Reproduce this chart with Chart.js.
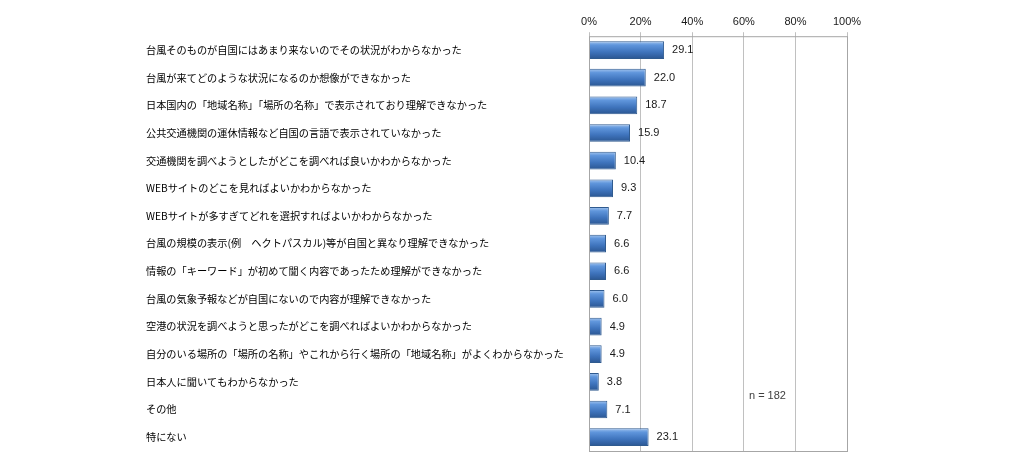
<!DOCTYPE html>
<html>
<head>
<meta charset="utf-8">
<script src="https://cdn.jsdelivr.net/npm/chart.js@4"></script>
<style>
    body { margin: 0; background: #fff; }
    #wrap { width: 1024px; height: 469px; }
</style>
</head>
<body>
<div id="wrap"><canvas id="myChart" width="1024" height="469"></canvas></div>
<script>
const kategori = [
    '台風そのものが自国にはあまり来ないのでその状況がわからなかった',
    '台風が来てどのような状況になるのか想像ができなかった',
    '日本国内の「地域名称」「場所の名称」で表示されており理解できなかった',
    '公共交通機関の運休情報など自国の言語で表示されていなかった',
    '交通機関を調べようとしたがどこを調べれば良いかわからなかった',
    'WEBサイトのどこを見ればよいかわからなかった',
    'WEBサイトが多すぎてどれを選択すればよいかわからなかった',
    '台風の規模の表示(例　ヘクトパスカル)等が自国と異なり理解できなかった',
    '情報の「キーワード」が初めて聞く内容であったため理解ができなかった',
    '台風の気象予報などが自国にないので内容が理解できなかった',
    '空港の状況を調べようと思ったがどこを調べればよいかわからなかった',
    '自分のいる場所の「場所の名称」やこれから行く場所の「地域名称」がよくわからなかった',
    '日本人に聞いてもわからなかった',
    'その他',
    '特にない'
];
const tyle = [29.1, 22.0, 18.7, 15.9, 10.4, 9.3, 7.7, 6.6, 6.6, 6.0, 4.9, 4.9, 3.8, 7.1, 23.1];
const mocTruc = [0, 20, 40, 60, 80, 100];
const ghiChu = 'n = 182';

function mauCot(context) {
    const chart = context.chart;
    if (!chart.chartArea) return '#4f81bd';
    const yScale = chart.scales.y;
    const y = yScale.getPixelForValue(context.dataIndex);
    const h = 9;
    const g = chart.ctx.createLinearGradient(0, y - h, 0, y + h);
    g.addColorStop(0, '#a8c8f0');
    g.addColorStop(0.22, '#6096dc');
    g.addColorStop(0.6, '#3f74bd');
    g.addColorStop(1, '#2a5590');
    return g;
}

const vienKhung = {
    id: 'vienKhung',
    afterDraw(chart) {
        const { ctx, chartArea } = chart;
        ctx.save();
        ctx.strokeStyle = '#a6a6a6';
        ctx.lineWidth = 1;
        ctx.strokeRect(chartArea.left + 0.5, chartArea.top + 0.5,
            chartArea.right - chartArea.left, chartArea.bottom - chartArea.top);
        ctx.restore();
    }
};

const nhanSo = {
    id: 'nhanSo',
    afterDatasetsDraw(chart) {
        const { ctx } = chart;
        const meta = chart.getDatasetMeta(0);
        ctx.save();
        ctx.fillStyle = '#1a1a1a';
        ctx.font = '11px "Liberation Sans", sans-serif';
        ctx.textBaseline = 'middle';
        ctx.textAlign = 'left';
        meta.data.forEach(function (bar, i) {
            ctx.fillText(tyle[i].toFixed(1), bar.x + 8, bar.y);
        });
        const x = chart.scales.x.getPixelForValue(62);
        const y = chart.scales.y.getPixelForValue(12.5);
        ctx.fillStyle = '#404040';
        ctx.fillText(ghiChu, x, y);
        ctx.restore();
    }
};

const data = {
    labels: kategori,
    datasets: [{
        data: tyle,
        backgroundColor: mauCot,
        borderColor: '#2f5a8f',
        borderWidth: 1,
        barPercentage: 0.64,
        categoryPercentage: 1
    }]
};

const config = {
    type: 'bar',
    data: data,
    options: {
        indexAxis: 'y',
        responsive: false,
        animation: false,
        layout: {
            padding: { left: 146, top: 11, right: 177, bottom: 18 }
        },
        plugins: {
            legend: { display: false },
            tooltip: { enabled: false }
        },
        scales: {
            x: {
                position: 'top',
                min: 0,
                max: 100,
                afterBuildTicks(axis) {
                    axis.ticks = mocTruc.map(v => ({ value: v }));
                },
                ticks: {
                    callback: v => v + '%',
                    color: '#1a1a1a',
                    font: { family: '"Liberation Sans", sans-serif', size: 11 },
                    padding: 4
                },
                grid: { color: '#c0c0c0', tickLength: 4 },
                border: { display: false }
            },
            y: {
                afterFit(axis) { axis.width = 443; },
                ticks: {
                    crossAlign: 'far',
                    color: '#000',
                    font: { family: '"Noto Sans CJK JP", sans-serif', size: 10.2 },
                    padding: 0
                },
                grid: { display: false },
                border: { display: false }
            }
        }
    },
    plugins: [vienKhung, nhanSo]
};

const myChart = new Chart(document.getElementById('myChart'), config);
</script>
</body>
</html>
